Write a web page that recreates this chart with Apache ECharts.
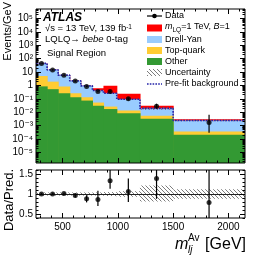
<!DOCTYPE html>
<html><head><meta charset="utf-8">
<script src="https://cdn.jsdelivr.net/npm/echarts@6/dist/echarts.min.js"></script>
<style>html,body{margin:0;padding:0;background:#fff}#c{width:266px;height:255px}</style>
</head><body><div id="c"></div>
<script>
// ---------------- data ----------------
const binEdges   = [260, 360, 460, 565, 665, 770, 870, 990, 1200, 1500, 2150];
const otherBkg   = [0.84, 0.52, 0.26, 0.13, 0.073, 0.030, 0.017, 0.0084, 0.0032, 0.00020];
const topQuark   = [4.26, 1.38, 0.55, 0.13, 0.057, 0.022, 0.009, 0.0046, 0.0021, 0.00015];
const drellYan   = [38.9, 12.5, 5.0, 1.91, 0.79, 0.36, 0.234, 0.080, 0.0137, 0.00205];
const signalLQ   = [0, 0, 0, 0, 0, 0.21, 0.66, 0.14, 0.0105, 0.0006];
const prefitBkg  = [44, 14.4, 5.8, 2.17, 0.92, 0.41, 0.26, 0.093, 0.019, 0.0024];
const dataVal    = [44, 14.3, 5.8, 2.08, 0.81, 0.355, 0.35, 0.098, 0.028, 0.0017];
const dataLo     = [43, 13.8, 5.6, 1.98, 0.75, 0.31, 0.30, 0.075, 0.019, 0.00029];
const dataHi     = [45, 14.8, 6.0, 2.18, 0.88, 0.41, 0.41, 0.125, 0.042, 0.0063];
const ratioVal   = [1.0, 1.0, 1.01, 0.96, 0.88, 0.86, 1.33, 1.06, 1.39, 0.79];
const ratioLo    = [0.98, 0.98, 0.99, 0.91, 0.79, 0.70, 1.13, 0.80, 0.88, 0.0];
const ratioHi    = [1.02, 1.02, 1.03, 1.01, 0.97, 1.08, 1.62, 1.39, 1.9, 2.0];
const uncUp      = [0.04, 0.04, 0.04, 0.04, 0.04, 0.04, 0.05, 0.07, 0.21, 0.12];
const uncDn      = [0.04, 0.04, 0.04, 0.04, 0.04, 0.04, 0.05, 0.07, 0.19, 0.12];
// tick labels
const xMajorTicks = [500, 1000, 1500, 2000];
const yMainLabels = [1e-5, 1e-4, 1e-3, 1e-2, 1e-1, 1, 10, 1e2, 1e3, 1e4, 1e5];
const yMainLabelText = ['10⁻⁵', '10⁻⁴', '10⁻³', '10⁻²', '10⁻¹', '1', '10', '10²', '10³', '10⁴', '10⁵'];
const ratioLabels = [0.5, 1, 1.5];

// ---------------- layout constants ----------------
const X_MIN = 260, X_MAX = 2150;
const Y_MIN = 1.58e-6, Y_MAX = 5.1e5;
const R_MIN = 0.4, R_MAX = 1.6;
const FONT = 'Liberation Sans, Arial, Helvetica, DejaVu Sans, sans-serif';

const xMinorTicks = [];
for (let v = 300; v < X_MAX; v += 100) if (v % 500) xMinorTicks.push(v);
const yMainMinor = [];
for (let e = -6; e <= 5; e++) for (let m = 2; m <= 9; m++) { const v = m * Math.pow(10, e); if (v > Y_MIN && v < Y_MAX) yMainMinor.push(v); }
const ratioMinor = [];
for (let k = 4; k <= 16; k++) { const v = k / 10; if (k % 5) ratioMinor.push(v); }

const nb = binEdges.length - 1;
const centres = [];
for (let i = 0; i < nb; i++) centres.push((binEdges[i] + binEdges[i + 1]) / 2);

// cumulative stacks
const cumOther = otherBkg.slice();
const cumTop = cumOther.map((v, i) => v + topQuark[i]);
const cumDY = cumTop.map((v, i) => v + drellYan[i]);
const cumSig = cumDY.map((v, i) => v + signalLQ[i]);

// hatch pattern
const hc = document.createElement('canvas');
hc.width = 4; hc.height = 4;
const hx = hc.getContext('2d');
hx.strokeStyle = '#6d6d6d'; hx.lineWidth = 0.9;
hx.beginPath();
hx.moveTo(-1, -1); hx.lineTo(5, 5);
hx.moveTo(-1, 3); hx.lineTo(1, 5);
hx.moveTo(3, -1); hx.lineTo(5, 1);
hx.stroke();
const hatch = { image: hc, repeat: 'repeat' };

function xAx(grid, pos, ticks, len, labels) {
  return {
    type: 'value', gridIndex: grid, position: pos, min: X_MIN, max: X_MAX, z: 10,
    axisLine: { show: false }, splitLine: { show: false },
    axisTick: { show: true, inside: true, length: len, customValues: ticks, lineStyle: { color: '#000', width: 1 } },
    axisLabel: labels ? { show: true, customValues: labels, interval: 0, hideOverlap: false, fontSize: 10, color: '#000', fontFamily: FONT, margin: 4,
      formatter: v => String(v) } : { show: false }
  };
}
function yLog(pos, ticks, len) {
  return {
    type: 'log', logBase: 10, gridIndex: 0, position: pos, min: Y_MIN, max: Y_MAX, z: 10,
    axisLine: { show: false }, splitLine: { show: false },
    axisTick: { show: true, inside: true, length: len, customValues: ticks, lineStyle: { color: '#000', width: 1 } },
    axisLabel: { show: false }
  };
}
function yRat(pos, ticks, len, labels) {
  return {
    type: 'value', gridIndex: 1, position: pos, min: R_MIN, max: R_MAX, z: 10,
    axisLine: { show: false }, splitLine: { show: false },
    axisTick: { show: true, inside: true, length: len, customValues: ticks, lineStyle: { color: '#000', width: 1 } },
    axisLabel: labels ? { show: true, customValues: labels, interval: 0, hideOverlap: false, fontSize: 10, color: '#000', fontFamily: FONT, margin: 3 } : { show: false }
  };
}

function histLayer(name, tops, color, z) {
  return {
    type: 'custom', name, xAxisIndex: 0, yAxisIndex: 0, z, clip: true, silent: true,
    data: tops.map((v, i) => [binEdges[i], binEdges[i + 1], v]),
    encode: { x: [0, 1], y: 2 },
    renderItem: (params, api) => {
      const p0 = api.coord([api.value(0), api.value(2)]);
      const p1 = api.coord([api.value(1), Y_MIN]);
      return { type: 'rect', shape: { x: p0[0], y: p0[1], width: p1[0] - p0[0] + 0.6, height: p1[1] - p0[1] }, style: { fill: color } };
    }
  };
}
function bandSeries(xi, yi, lo, hi, z) {
  return {
    type: 'custom', xAxisIndex: xi, yAxisIndex: yi, z, clip: true, silent: true,
    data: lo.map((v, i) => [binEdges[i], binEdges[i + 1], v, hi[i]]),
    encode: { x: [0, 1], y: [2, 3] },
    renderItem: (params, api) => {
      const p0 = api.coord([api.value(0), api.value(3)]);
      const p1 = api.coord([api.value(1), api.value(2)]);
      return { type: 'rect', shape: { x: p0[0], y: p0[1], width: p1[0] - p0[0], height: p1[1] - p0[1] }, style: { fill: hatch } };
    }
  };
}
function errSeries(xi, yi, lo, hi, z) {
  return {
    type: 'custom', xAxisIndex: xi, yAxisIndex: yi, z, clip: true, silent: true,
    data: lo.map((v, i) => [centres[i], v, hi[i]]),
    encode: { x: 0, y: [1, 2] },
    renderItem: (params, api) => {
      const a = api.coord([api.value(0), api.value(1)]);
      const b = api.coord([api.value(0), api.value(2)]);
      return { type: 'line', shape: { x1: a[0], y1: a[1], x2: b[0], y2: b[1] }, style: { stroke: '#000', lineWidth: 1.2 } };
    }
  };
}

const totalBkg = cumDY;
const mainBandLo = totalBkg.map((v, i) => v * (1 - uncDn[i]));
const mainBandHi = totalBkg.map((v, i) => v * (1 + uncUp[i]));
const ratBandLo = uncDn.map(u => 1 - u);
const ratBandHi = uncUp.map(u => 1 + u);

const prefitLine = prefitBkg.map((v, i) => [binEdges[i], v]);
prefitLine.push([binEdges[nb], prefitBkg[nb - 1]]);

// ---------------- legend / text graphics ----------------
const LX = 147, LW = 15, TX = 165;
const rows = [16, 28, 39.5, 50.5, 61.5, 72.5, 84];
const LF = 9;
const legendTxt = { fontSize: LF, fontFamily: FONT, fill: '#000', verticalAlign: 'middle', align: 'left' };
function boxIcon(y, fill) { return { type: 'rect', shape: { x: LX, y: y - 3.5, width: LW, height: 7 }, style: { fill }, z: 100 }; }
function ltext(y, text, extra) { return { type: 'text', x: TX, y, style: Object.assign({ text }, legendTxt, extra || {}), z: 100 }; }

const graphics = [
  // Data
  { type: 'line', shape: { x1: LX, y1: rows[0], x2: LX + LW, y2: rows[0] }, style: { stroke: '#000', lineWidth: 1.2 }, z: 100 },
  { type: 'circle', shape: { cx: LX + LW / 2, cy: rows[0], r: 2.3 }, style: { fill: '#000' }, z: 100 },
  ltext(rows[0], 'Data'),
  boxIcon(rows[1], '#ff0000'),
  ltext(rows[1], '{i|m}{sub|LQ}{n|=1 TeV, }{i|B}{n|=1}', {
    rich: {
      i: { fontStyle: 'italic', fontSize: LF, fontFamily: FONT, lineHeight: 12, verticalAlign: 'top' },
      n: { fontSize: LF, fontFamily: FONT, lineHeight: 12, verticalAlign: 'top' },
      sub: { fontSize: 6.5, fontFamily: FONT, lineHeight: 8, verticalAlign: 'bottom' }
    }
  }),
  boxIcon(rows[2], '#99ccff'), ltext(rows[2], 'Drell-Yan'),
  boxIcon(rows[3], '#ffcc33'), ltext(rows[3], 'Top-quark'),
  boxIcon(rows[4], '#339933'), ltext(rows[4], 'Other'),
  { type: 'rect', shape: { x: LX, y: rows[5] - 3.5, width: LW, height: 7 }, style: { fill: hatch }, z: 100 },
  ltext(rows[5], 'Uncertainty'),
  { type: 'line', shape: { x1: LX, y1: rows[6], x2: LX + LW, y2: rows[6] }, style: { stroke: '#2323a8', lineWidth: 1.6, lineDash: [1.6, 1.2] }, z: 100 },
  ltext(rows[6], 'Pre-fit background'),
  // ATLAS labels
  { type: 'text', x: 43, y: 18, z: 100, style: { text: 'ATLAS', fontSize: 12, fontWeight: 'bold', fontStyle: 'italic', fontFamily: FONT, fill: '#000', verticalAlign: 'middle' } },
  { type: 'text', x: 45, y: 28.5, z: 100, style: { text: '√s = 13 TeV, 139 fb{s|-1}', fontSize: 9.5, fontFamily: FONT, fill: '#000', verticalAlign: 'middle',
      rich: { s: { fontSize: 6.5, fontFamily: FONT, verticalAlign: 'top', lineHeight: 8 } } } },
  { type: 'text', x: 45, y: 39.5, z: 100, style: { text: 'LQLQ→ {i|bebe} 0-tag', fontSize: 9.5, fontFamily: FONT, fill: '#000', verticalAlign: 'middle',
      rich: { i: { fontStyle: 'italic', fontSize: 9.5, fontFamily: FONT } } } },
  { type: 'text', x: 47, y: 53, z: 100, style: { text: 'Signal Region', fontSize: 9.5, fontFamily: FONT, fill: '#000', verticalAlign: 'middle' } },
  // axis titles
  { type: 'text', x: 9, y: 200, rotation: Math.PI / 2, z: 100, style: { text: 'Data/Pred.', fontSize: 13, fontFamily: FONT, fill: '#000', align: 'center', verticalAlign: 'middle' } },
  { type: 'text', x: 175, y: 245, z: 100, style: { text: 'm', fontSize: 16, fontStyle: 'italic', fontFamily: FONT, fill: '#000', verticalAlign: 'middle' } },
  { type: 'text', x: 188, y: 250, z: 100, style: { text: 'lj', fontSize: 10, fontStyle: 'italic', fontFamily: FONT, fill: '#000', verticalAlign: 'middle' } },
  { type: 'text', x: 188, y: 238, z: 100, style: { text: 'Av', fontSize: 10, fontFamily: FONT, fill: '#000', verticalAlign: 'middle' } },
  { type: 'text', x: 246, y: 245, z: 100, style: { text: '[GeV]', fontSize: 16, fontFamily: FONT, fill: '#000', align: 'right', verticalAlign: 'middle' } },
  { type: 'text', x: 7.5, y: 2, rotation: Math.PI / 2, z: 100, style: { text: 'Events/GeV', fontSize: 11, fontFamily: FONT, fill: '#000', align: 'right', verticalAlign: 'middle' } }
];

const chart = echarts.init(document.getElementById('c'), null, { renderer: 'canvas' });
chart.setOption({
  animation: false,
  backgroundColor: '#fff',
  grid: [
    { left: 36, top: 9, width: 209, height: 154, show: true, borderColor: '#000', borderWidth: 1, backgroundColor: 'transparent', z: 10 },
    { left: 36, top: 170, width: 209, height: 48, show: true, borderColor: '#000', borderWidth: 1, backgroundColor: 'transparent', z: 10 }
  ],
  xAxis: [
    xAx(0, 'bottom', xMajorTicks, 5), xAx(0, 'bottom', xMinorTicks, 2.5),
    xAx(0, 'top', xMajorTicks, 5), xAx(0, 'top', xMinorTicks, 2.5),
    xAx(1, 'bottom', xMajorTicks, 5, xMajorTicks), xAx(1, 'bottom', xMinorTicks, 2.5),
    xAx(1, 'top', xMajorTicks, 5), xAx(1, 'top', xMinorTicks, 2.5)
  ],
  yAxis: [
    yLog('left', yMainLabels, 5), yLog('left', yMainMinor, 2.5),
    yLog('right', yMainLabels, 5), yLog('right', yMainMinor, 2.5),
    yRat('left', ratioLabels, 5, ratioLabels), yRat('left', ratioMinor, 2.5),
    yRat('right', ratioLabels, 5), yRat('right', ratioMinor, 2.5)
  ],
  series: [
    histLayer('m_LQ=1 TeV, B=1', cumSig, '#ff0000', 2),
    histLayer('Drell-Yan', cumDY, '#99ccff', 3),
    histLayer('Top-quark', cumTop, '#ffcc33', 4),
    histLayer('Other', cumOther, '#339933', 5),
    bandSeries(0, 0, mainBandLo, mainBandHi, 6),
    {
      type: 'line', name: 'Pre-fit background', xAxisIndex: 0, yAxisIndex: 0, z: 7, step: 'end', symbol: 'none', silent: true,
      data: prefitLine, lineStyle: { color: '#2323a8', width: 1.6, type: [1.6, 1.2] }, clip: true
    },
    errSeries(0, 0, dataLo, dataHi, 8),
    {
      type: 'scatter', name: 'Data', xAxisIndex: 0, yAxisIndex: 0, z: 9, symbol: 'circle', symbolSize: 5, silent: true,
      itemStyle: { color: '#000' }, data: dataVal.map((v, i) => [centres[i], v])
    },
    Object.assign(bandSeries(4, 4, ratBandLo, ratBandHi, 3), {
      markLine: { silent: true, symbol: 'none', label: { show: false }, data: [{ yAxis: 1 }], lineStyle: { color: '#222', width: 1, type: 'solid' } }
    }),
    errSeries(4, 4, ratioLo, ratioHi, 8),
    {
      type: 'scatter', name: 'Ratio', xAxisIndex: 4, yAxisIndex: 4, z: 9, symbol: 'circle', symbolSize: 5, silent: true,
      itemStyle: { color: '#000' }, data: ratioVal.map((v, i) => [centres[i], v])
    }
  ]
});

// y tick labels of the log axis, placed with the axis' own scale, on their own top layer
const yAxis0 = chart.getModel().getComponent('yAxis', 0).axis;
const yLabelGraphics = yMainLabels.map((v, i) => {
  let py = chart.convertToPixel({ yAxisIndex: 0 }, v);
  if (!isFinite(py)) py = yAxis0.toGlobalCoord(yAxis0.dataToCoord(v));
  return {
    type: 'text', x: 33, y: py, z: 200, zlevel: 1,
    style: { text: yMainLabelText[i], align: 'right', verticalAlign: 'middle', fill: '#000', fontFamily: FONT, fontSize: 10 }
  };
});
chart.setOption({ graphic: graphics.concat(yLabelGraphics) });
</script></body></html>
